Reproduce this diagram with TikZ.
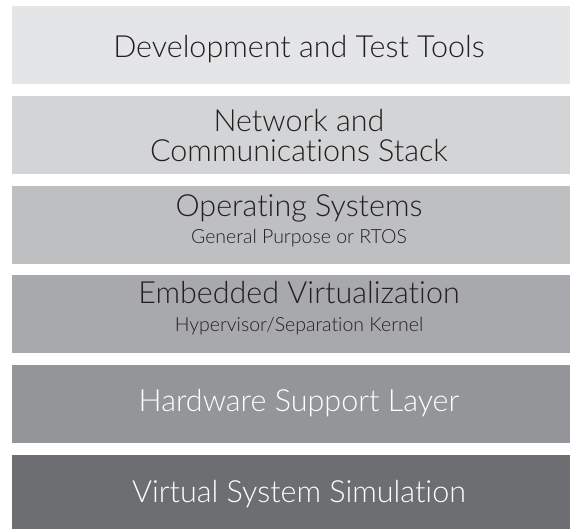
\documentclass[tikz,border=0pt]{standalone}
\usepackage{fontspec}
\setmainfont{Lato}[UprightFont={* Light},Ligatures={NoCommon},RawFeature={-liga;-dlig}]
\definecolor{cA}{HTML}{E4E5E6}
\definecolor{cB}{HTML}{D3D4D5}
\definecolor{cC}{HTML}{BEBFC1}
\definecolor{cD}{HTML}{A8A9AC}
\definecolor{cE}{HTML}{939598}
\definecolor{cF}{HTML}{6D6E71}
\definecolor{ink}{HTML}{231F20}
\begin{document}
\begin{tikzpicture}[x=1pt,y=-1pt,
  big/.style={anchor=base,inner sep=0pt,font=\fontsize{30.5}{33}\selectfont,text=ink},
  small/.style={anchor=base,inner sep=0pt,font=\fontsize{19.5}{21}\selectfont,text=ink},
  bigw/.style={big,text=white}]
\useasboundingbox (0,0) rectangle (570,529);
\fill[cA] (12,6) rectangle (570,84);
\fill[cB] (12,96) rectangle (570,174);
\fill[cC] (12,186) rectangle (570,264);
\fill[cD] (12,275) rectangle (570,353);
\fill[cE] (12,365) rectangle (570,443);
\fill[cF] (12,455) rectangle (570,529);
\node[big] (t1) at (299,58) {Development and Test Tools};
\node[big] (t2a) at (299,132) {Network and};
\node[big] (t2b) at (299,162) {Communications Stack};
\node[big] (t3) at (299,217) {Operating Systems};
\node[small] (s3) at (299,244) {General Purpose or RTOS};
\node[big] (t4) at (299,303) {Embedded Virtualization};
\node[small] (s4) at (299,331) {Hypervisor/Separation Kernel};
\node[bigw] (t5) at (299,411) {Hardware Support Layer};
\node[bigw] (t6) at (299,502) {Virtual System Simulation};
\end{tikzpicture}
\end{document}
